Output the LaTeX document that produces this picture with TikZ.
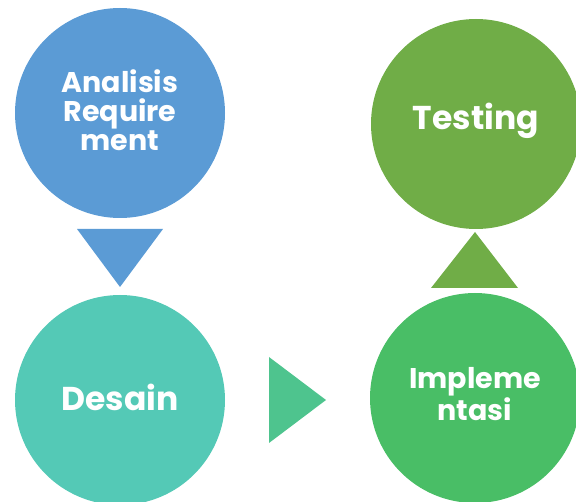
\documentclass[tikz,border=0pt]{standalone}
\usepackage{fontspec}
\setmainfont{Poppins}
\begin{document}
\definecolor{reqblue}{HTML}{5B9BD5}
\definecolor{desteal}{HTML}{54C9B6}
\definecolor{arrteal}{HTML}{4EC48E}
\definecolor{impgreen}{HTML}{49BE66}
\definecolor{testgreen}{HTML}{70AD47}
\begin{tikzpicture}[x=1pt,y=-1pt,
  bubble/.style={circle,minimum size=210pt,inner sep=0pt,draw=none},
  lbl/.style={text=white,font=\bfseries,align=center,inner sep=0pt},
  lblsmall/.style={lbl,font=\bfseries\fontsize{28.5}{29}\selectfont},
  lblbig/.style={lbl,font=\bfseries\fontsize{33}{36}\selectfont}]
  \useasboundingbox (0,0) rectangle (576,502);
  \clip (0,0) rectangle (576,502);
  % phase bubbles
  \node[bubble,fill=reqblue]   (req)  at (120,113) {};
  \node[bubble,fill=desteal]   (des)  at (120,400) {};
  \node[bubble,fill=impgreen]  (imp)  at (475,398) {};
  \node[bubble,fill=testgreen] (test) at (476,124) {};
  % labels
  \node[lblsmall] (reqt)  at ([yshift=3pt]req.center)  {Analisis\\Require\\ment};
  \node[lblbig]   (dest)  at ([yshift=3pt]des.center)  {Desain};
  \node[lblsmall] (impt)  at ([yshift=4pt]imp.center)  {Impleme\\ntasi};
  \node[lblbig]   (testt) at ([yshift=3pt]test.center) {Testing};
  % flow triangles between phases
  \coordinate (d1) at (77,229);  \coordinate (d2) at (163,229); \coordinate (d3) at (120,287);
  \coordinate (r1) at (269,357); \coordinate (r2) at (269,443); \coordinate (r3) at (326,400);
  \coordinate (u1) at (431,288); \coordinate (u2) at (518,288); \coordinate (u3) at (475,232);
  \fill[reqblue]   (d1) -- (d2) -- (d3) -- cycle;
  \fill[arrteal]   (r1) -- (r2) -- (r3) -- cycle;
  \fill[testgreen] (u1) -- (u2) -- (u3) -- cycle;
\end{tikzpicture}
\end{document}
